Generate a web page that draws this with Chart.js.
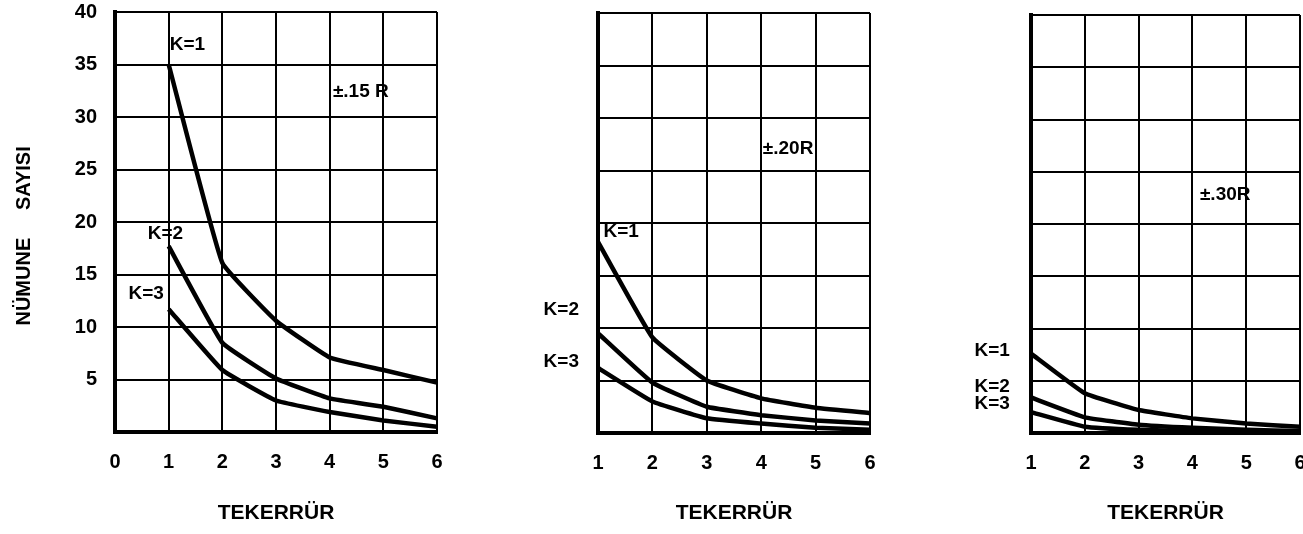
<!DOCTYPE html>
<html><head><meta charset="utf-8">
<script src="https://cdn.jsdelivr.net/npm/chart.js@4/dist/chart.umd.min.js"></script>
<style>
html,body{margin:0;padding:0;background:#fff;width:1303px;height:534px;overflow:hidden}
.p{position:absolute;top:0;height:534px}
</style></head><body>
<div class="p" style="left:0;width:460px"><canvas id="c1"></canvas></div>
<div class="p" style="left:520px;width:360px"><canvas id="c2"></canvas></div>
<div class="p" style="left:940px;width:363px"><canvas id="c3"></canvas></div>
<script>
// ---- data ----
const repeats = [1, 2, 3, 4, 5, 6];            // TEKERRÜR
const seriesNames = ['K=1', 'K=2', 'K=3'];
// ±.15 R
const p15_k1 = [35, 16.1, 10.6, 7.1, 5.9, 4.7];
const p15_k2 = [17.7, 8.5, 5.1, 3.2, 2.4, 1.3];
const p15_k3 = [11.7, 5.9, 3.0, 1.9, 1.1, 0.5];
// ±.20 R
const p20_k1 = [18.2, 9.1, 5.0, 3.3, 2.4, 1.9];
const p20_k2 = [9.5, 4.8, 2.5, 1.7, 1.2, 0.9];
const p20_k3 = [6.2, 3.0, 1.4, 0.9, 0.5, 0.3];
// ±.30 R
const p30_k1 = [7.6, 3.8, 2.2, 1.4, 0.9, 0.6];
const p30_k2 = [3.4, 1.5, 0.8, 0.5, 0.3, 0.2];
const p30_k3 = [2.0, 0.6, 0.3, 0.2, 0.1, 0.1];
const yTitle = 'NÜMUNE     SAYISI     ';
const xTitle = 'TEKERRÜR';
const panelLabels = ['±.15 R', '±.20R', '±.30R'];

const FONT = "'Liberation Sans', 'DejaVu Sans', sans-serif";

function textPlugin(items) {
  return {
    id: 'txt',
    afterDatasetsDraw(chart) {
      const {ctx, scales: {x, y}} = chart;
      ctx.save();
      ctx.fillStyle = '#000';
      ctx.font = 'bold 19px ' + FONT;
      ctx.textBaseline = 'middle';
      ctx.textAlign = 'left';
      for (const it of items) ctx.fillText(it.t, x.getPixelForValue(it.x), y.getPixelForValue(it.y));
      ctx.restore();
    }
  };
}

function makePanel(id, series, cfg) {
  const datasets = series.map((vals, i) => ({
    label: seriesNames[i],
    data: repeats.map((r, j) => ({x: r, y: vals[j]})),
    borderColor: '#000',
    borderWidth: 4.5,
    pointRadius: 0,
    tension: 0.1,
    fill: false,
    clip: 6
  }));
  new Chart(document.getElementById(id), {
    type: 'line',
    data: {datasets},
    plugins: [textPlugin(cfg.items)],
    options: {
      responsive: true,
      maintainAspectRatio: false,
      animation: false,
      events: [],
      layout: {padding: {left: 0, right: cfg.padRight, top: cfg.padTop, bottom: 0}},
      plugins: {legend: {display: false}, tooltip: {enabled: false}},
      scales: {
        x: {
          type: 'linear', min: cfg.xmin, max: 6,
          ticks: {stepSize: 1, padding: 18, color: '#000', font: {family: FONT, size: 20, weight: 'bold'}, maxRotation: 0},
          grid: {color: '#000', lineWidth: 2, drawTicks: false},
          border: {display: true, color: '#000', width: 4},
          title: {display: true, text: xTitle, color: '#000', padding: {top: 0, bottom: 8}, font: {family: FONT, size: 21, weight: 'bold'}},
          afterFit(s) { s.height = 534 - cfg.bottom; s.paddingLeft = 0; s.paddingRight = 0; }
        },
        y: {
          type: 'linear', min: 0, max: 40,
          ticks: {display: cfg.yLabels, stepSize: 5, padding: 18, color: '#000',
                  font: {family: FONT, size: 20, weight: 'bold'},
                  callback: v => v === 0 ? '' : String(v)},
          grid: {color: '#000', lineWidth: 2, drawTicks: false},
          border: {display: true, color: '#000', width: 4},
          title: {display: cfg.yLabels, text: yTitle, color: '#000', padding: {top: 12, bottom: 0}, font: {family: FONT, size: 20, weight: 'bold'}},
          afterFit(s) { s.width = cfg.yWidth; s.paddingTop = 0; s.paddingBottom = 0; }
        }
      }
    }
  });
}

makePanel('c1', [p15_k1, p15_k2, p15_k3], {
  xmin: 0, yLabels: true, yWidth: 115, padRight: 23, padTop: 12, bottom: 432,
  items: [
    {t: seriesNames[0], x: 1.02, y: 36.9},
    {t: seriesNames[1], x: 0.61, y: 18.9},
    {t: seriesNames[2], x: 0.25, y: 13.2},
    {t: panelLabels[0], x: 4.06, y: 32.4}
  ]
});
makePanel('c2', [p20_k1, p20_k2, p20_k3], {
  xmin: 1, yLabels: false, yWidth: 78, padRight: 10, padTop: 13, bottom: 433,
  items: [
    {t: seriesNames[0], x: 1.1, y: 19.2},
    {t: seriesNames[1], x: 0.0, y: 11.7},
    {t: seriesNames[2], x: 0.0, y: 6.8},
    {t: panelLabels[1], x: 4.03, y: 27.1}
  ]
});
makePanel('c3', [p30_k1, p30_k2, p30_k3], {
  xmin: 1, yLabels: false, yWidth: 91, padRight: 3, padTop: 15, bottom: 433,
  items: [
    {t: seriesNames[0], x: -0.05, y: 7.9},
    {t: seriesNames[1], x: -0.05, y: 4.4},
    {t: seriesNames[2], x: -0.05, y: 2.8},
    {t: panelLabels[2], x: 4.14, y: 22.8}
  ]
});
</script>
</body></html>
